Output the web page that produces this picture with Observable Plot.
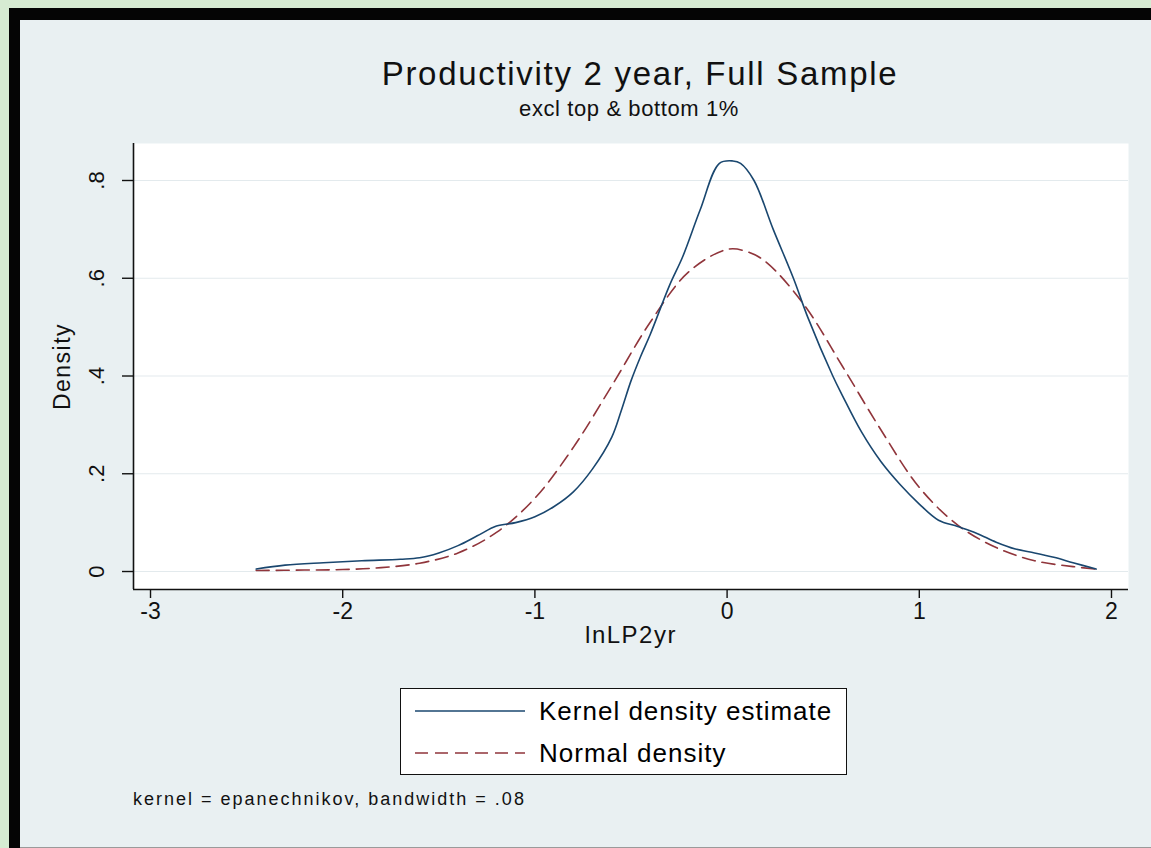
<!DOCTYPE html>
<html>
<head>
<meta charset="utf-8">
<script src="https://cdn.jsdelivr.net/npm/d3@7"></script>
<script src="https://cdn.jsdelivr.net/npm/@observablehq/plot@0.6"></script>
<style>
  html, body { margin: 0; padding: 0; }
  body { width: 1151px; height: 848px; background: #d6ebd2; position: relative; overflow: hidden;
         font-family: "Liberation Sans", Arial, sans-serif; }
  #frame { position: absolute; left: 9px; top: 8px; right: 0; bottom: 0; background: #050505; }
  #panel { position: absolute; left: 20px; top: 20px; right: 0; bottom: 0; background: #e9f0f2;
           border-bottom: 1px solid #9a9a9a; box-sizing: border-box; }
  .abs { position: absolute; color: #111; white-space: nowrap; }
  #title { left: 0; width: 1280px; top: 55px; text-align: center; font-size: 33px; letter-spacing: 1.7px; }
  #subtitle { left: 0; width: 1258px; top: 96px; text-align: center; font-size: 22px; letter-spacing: 0.6px; }
  #chart { position: absolute; left: 0; top: 130px; }
  #legend { position: absolute; left: 400px; top: 688px; width: 447px; height: 87px; background: #fff;
            border: 1.5px solid #111; box-sizing: border-box; }
  .lrow { position: absolute; left: 0; height: 40px; display: flex; align-items: center; font-size: 26px; letter-spacing: 1px; }
  .lrow svg { margin-left: 14px; margin-right: 14px; }
  #note { left: 133px; top: 789px; font-size: 18px; letter-spacing: 2px; }
</style>
</head>
<body>
<div id="frame"></div>
<div id="panel"></div>
<div class="abs" id="title">Productivity 2 year, Full Sample</div>
<div class="abs" id="subtitle">excl top &amp; bottom 1%</div>
<div id="chart"></div>
<div id="legend">
  <div class="lrow" style="top:2px"><svg width="110" height="10"><line x1="0" y1="5" x2="110" y2="5" stroke="#1a476f" stroke-width="1.6"/></svg>Kernel density estimate</div>
  <div class="lrow" style="top:44px"><svg width="110" height="10"><line x1="0" y1="5" x2="110" y2="5" stroke="#90353b" stroke-width="1.6" stroke-dasharray="13,7"/></svg>Normal density</div>
</div>
<div class="abs" id="note">kernel = epanechnikov, bandwidth = .08</div>
<script>
// Kernel density estimate
const kdeX = [-2.45,-2.3,-2.1,-1.9,-1.7,-1.6,-1.5,-1.4,-1.3,-1.2,-1.1,-1.0,-0.9,-0.8,-0.7,-0.6,-0.55,-0.5,-0.45,-0.4,-0.3,-0.23,-0.14,-0.04,0.03,0.07,0.14,0.24,0.345,0.42,0.55,0.6,0.7,0.8,0.9,1.0,1.1,1.2,1.3,1.4,1.5,1.6,1.7,1.8,1.92];
const kdeY = [0.005,0.013,0.018,0.022,0.025,0.028,0.038,0.053,0.073,0.093,0.100,0.112,0.133,0.163,0.210,0.275,0.330,0.390,0.440,0.485,0.585,0.645,0.740,0.835,0.840,0.835,0.800,0.700,0.600,0.520,0.400,0.360,0.285,0.225,0.178,0.138,0.105,0.092,0.078,0.060,0.046,0.038,0.029,0.018,0.005];
// Normal density
const normX = [-2.45,-2.2,-2.0,-1.8,-1.6,-1.4,-1.2,-1.0,-0.8,-0.6,-0.4,-0.2,0.0,0.1,0.2,0.4,0.6,0.8,1.0,1.2,1.4,1.6,1.8,1.92];
const normY = [0.002,0.003,0.004,0.008,0.017,0.038,0.080,0.150,0.254,0.380,0.510,0.613,0.659,0.655,0.634,0.546,0.420,0.290,0.172,0.095,0.049,0.022,0.010,0.005];
const xTicks = [-3,-2,-1,0,1,2];
const yTicks = [0,0.2,0.4,0.6,0.8];

const kde = kdeX.map((x,i)=>({x, y: kdeY[i]}));
const norm = normX.map((x,i)=>({x, y: normY[i]}));
const xmin = -3.0885, xmax = 2.0885, ymin = -0.0368, ymax = 0.8757;
const fmt = d => d === 0 ? "0" : String(d).replace("0.", ".");

const chart = Plot.plot({
  width: 1151, height: 520,
  marginLeft: 133, marginRight: 23, marginTop: 13, marginBottom: 61,
  style: {background: "transparent", fontFamily: "Liberation Sans, Arial, sans-serif", color: "#111"},
  x: {domain: [xmin, xmax]},
  y: {domain: [ymin, ymax]},
  marks: [
    Plot.frame({fill: "white", stroke: null}),
    Plot.gridY(yTicks, {stroke: "#e3eaed", strokeOpacity: 1, strokeWidth: 1.2}),
    Plot.line(norm, {x: "x", y: "y", stroke: "#90353b", strokeWidth: 1.6, strokeDasharray: "13,7", curve: "catmull-rom"}),
    Plot.line(kde, {x: "x", y: "y", stroke: "#1a476f", strokeWidth: 1.6, curve: "catmull-rom"}),
    Plot.ruleX([xmin], {stroke: "#111", strokeWidth: 1.6}),
    Plot.ruleY([ymin], {stroke: "#111", strokeWidth: 1.6}),
    Plot.axisY(yTicks, {tickSize: 11, text: null, label: null, stroke: "#111", strokeWidth: 1.4}),
    Plot.axisX(xTicks, {tickSize: 9, text: null, label: null, stroke: "#111", strokeWidth: 1.4}),
    Plot.text(yTicks, {y: d => d, frameAnchor: "left", dx: -37, rotate: -90, text: fmt, fontSize: 22, textAnchor: "middle", lineAnchor: "middle", fill: "#111"}),
    Plot.text(xTicks, {x: d => d, frameAnchor: "bottom", dy: 22, text: d => String(d), fontSize: 23, textAnchor: "middle", lineAnchor: "middle", fill: "#111"}),
    Plot.text(["Density"], {frameAnchor: "left", dx: -71, rotate: -90, text: d => d, fontSize: 23, textAnchor: "middle", lineAnchor: "middle", fill: "#111", style: "letter-spacing:1.5px"}),
    Plot.text(["lnLP2yr"], {frameAnchor: "bottom", dy: 46, text: d => d, fontSize: 24, textAnchor: "middle", lineAnchor: "middle", fill: "#111"})
  ]
});
document.getElementById("chart").appendChild(chart);
// letter spacing for axis titles
chart.querySelectorAll("text").forEach(t => { if (t.textContent === "Density" || t.textContent === "lnLP2yr") t.setAttribute("letter-spacing", "1.5"); });
</script>
</body>
</html>
